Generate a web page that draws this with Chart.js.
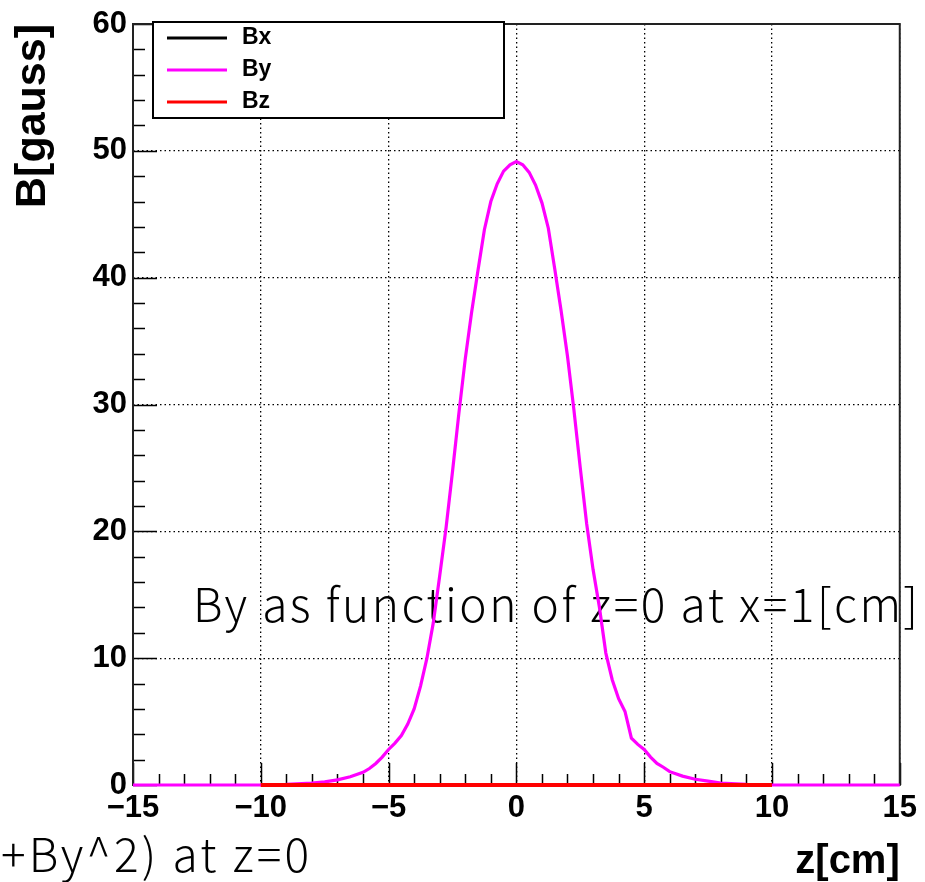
<!DOCTYPE html>
<html>
<head>
<meta charset="utf-8">
<script src="https://cdn.jsdelivr.net/npm/chart.js@4"></script>
<style>
  body { margin: 0; background: #fff; }
</style>
</head>
<body>
<canvas id="fieldChart" width="925" height="882"></canvas>
<script>
// z positions [cm] and By [gauss]
const zPos = [-15, -10, -9, -8, -7.5, -7, -6.5, -6, -5.75, -5.5, -5.25, -5, -4.75, -4.5, -4.25, -4,
  -3.75, -3.5, -3.25, -3, -2.75, -2.5, -2.25, -2, -1.75, -1.5, -1.25, -1, -0.75, -0.5, -0.25, 0,
  0.25, 0.5, 0.75, 1, 1.25, 1.5, 1.75, 2, 2.25, 2.5, 2.75, 3, 3.25, 3.5, 3.75, 4,
  4.25, 4.5, 4.75, 5, 5.25, 5.5, 5.75, 6, 6.5, 7, 7.5, 8, 9, 10, 15];
const byVals = [0, 0, 0.05, 0.15, 0.25, 0.4, 0.65, 1.0, 1.3, 1.7, 2.2, 2.8, 3.3, 3.9, 4.8, 6.0,
  7.8, 10.0, 12.8, 16.5, 20.3, 24.7, 29.3, 33.6, 37.3, 40.6, 43.8, 46.0, 47.4, 48.4, 48.9, 49.15,
  48.9, 48.3, 47.3, 45.9, 43.9, 40.7, 37.4, 33.8, 29.6, 25.0, 20.6, 17.0, 14.0, 10.4, 8.3, 6.8,
  5.8, 3.7, 3.2, 2.8, 2.2, 1.7, 1.4, 1.05, 0.7, 0.45, 0.3, 0.15, 0.05, 0, 0];

// Bx and Bz stay at zero over the measured range
const fieldZ = [-10, -5, 0, 5, 10];
const bxVals = [0, 0, 0, 0, 0];
const bzVals = [0, 0, 0, 0, 0];

const seriesNames = ['Bx', 'By', 'Bz'];
const seriesColors = ['#000000', '#ff00ff', '#ff0000'];

const noteMain = 'By as function of z=0 at x=1[cm]';
const noteCut = '+By^2) at z=0';

function toPoints(xs, ys) {
  return xs.map((x, i) => ({ x: x, y: ys[i] }));
}

// spread the letters so the text covers the given width
function spreadText(ctx, text, x, y, width) {
  ctx.letterSpacing = '0px';
  const w = ctx.measureText(text).width;
  const gap = Math.max(0, (width - w) / (text.length - 1));
  ctx.letterSpacing = gap + 'px';
  ctx.fillText(text, x, y);
  ctx.letterSpacing = '0px';
}

// ROOT style frame, inward ticks, legend box and the stray titles
const rootStyle = {
  id: 'rootStyle',
  beforeDatasetsDraw(chart) {
    const ctx = chart.ctx;
    const a = chart.chartArea;
    const xs = chart.scales.x;
    const ys = chart.scales.y;
    ctx.save();
    ctx.fillStyle = '#000';
    ctx.font = '300 46px "Noto Sans CJK JP"';
    ctx.textBaseline = 'alphabetic';
    ctx.textAlign = 'left';
    spreadText(ctx, noteMain, 193, 622, 725);
    spreadText(ctx, noteCut, 1, 872, 308);

    ctx.strokeStyle = '#000';
    ctx.lineWidth = 1.5;
    ctx.beginPath();
    for (let v = 0; v <= 60; v += 2) {
      const py = Math.round(ys.getPixelForValue(v)) + 0.5;
      const len = v % 10 === 0 ? 24 : 12;
      ctx.moveTo(a.left, py);
      ctx.lineTo(a.left + len, py);
    }
    for (let v = -15; v <= 15; v += 1) {
      const px = Math.round(xs.getPixelForValue(v)) + 0.5;
      const len = v % 5 === 0 ? 22 : 11;
      ctx.moveTo(px, a.bottom);
      ctx.lineTo(px, a.bottom - len);
    }
    ctx.stroke();
    ctx.lineWidth = 2;
    ctx.strokeStyle = '#222';
    ctx.strokeRect(a.left, a.top, a.right - a.left, a.bottom - a.top);
    ctx.restore();
  },
  afterDraw(chart) {
    const ctx = chart.ctx;
    const a = chart.chartArea;
    const bx = a.left + 20, by = a.top - 2, bw = 351, bh = 96;
    ctx.save();
    ctx.fillStyle = '#fff';
    ctx.fillRect(bx, by, bw, bh);
    ctx.strokeStyle = '#000';
    ctx.lineWidth = 2;
    ctx.strokeRect(bx, by, bw, bh);
    ctx.font = 'bold 23px "Liberation Sans"';
    ctx.textBaseline = 'middle';
    ctx.textAlign = 'left';
    chart.data.datasets.forEach((ds, i) => {
      const rowY = by + 16 + i * 32;
      ctx.strokeStyle = ds.borderColor;
      ctx.lineWidth = 3;
      ctx.beginPath();
      ctx.moveTo(bx + 14, rowY);
      ctx.lineTo(bx + 74, rowY);
      ctx.stroke();
      ctx.fillStyle = '#000';
      ctx.fillText(ds.label, bx + 89, rowY);
    });
    ctx.restore();
  }
};

const ctx = document.getElementById('fieldChart').getContext('2d');
new Chart(ctx, {
  type: 'line',
  data: {
    datasets: [
      { label: seriesNames[0], data: toPoints(fieldZ, bxVals), borderColor: seriesColors[0], borderWidth: 3, order: 2, clip: 6 },
      { label: seriesNames[1], data: toPoints(zPos, byVals), borderColor: seriesColors[1], borderWidth: 3.2, order: 1, clip: 6 },
      { label: seriesNames[2], data: toPoints(fieldZ, bzVals), borderColor: seriesColors[2], borderWidth: 4, order: 0, clip: 6 }
    ]
  },
  options: {
    responsive: false,
    animation: false,
    layout: { padding: { top: 24, right: 23, left: 0, bottom: 0 } },
    elements: { point: { radius: 0 }, line: { tension: 0 } },
    plugins: { legend: { display: false }, tooltip: { enabled: false } },
    scales: {
      x: {
        type: 'linear',
        min: -15,
        max: 15,
        afterFit(s) { s.height = 97; },
        ticks: {
          stepSize: 5,
          maxRotation: 0,
          padding: 8,
          color: '#000',
          font: { family: 'Liberation Sans', weight: 'bold', size: 31, lineHeight: 1 },
          callback: v => (v < 0 ? '\u2212' + Math.abs(v) : String(v))
        },
        grid: { color: '#000', lineWidth: 1.3, drawTicks: false },
        border: { display: false, dash: [1.5, 3] },
        title: {
          display: true, text: 'z[cm]', align: 'end', color: '#000',
          font: { family: 'Liberation Sans', weight: 'bold', size: 40, lineHeight: 1 },
          padding: { top: 0, bottom: 0 }
        }
      },
      y: {
        min: 0,
        max: 60,
        afterFit(s) { s.width = 133; },
        ticks: {
          stepSize: 10,
          padding: 6,
          color: '#000',
          font: { family: 'Liberation Sans', weight: 'bold', size: 31, lineHeight: 1 }
        },
        grid: { color: '#000', lineWidth: 1.3, drawTicks: false },
        border: { display: false, dash: [1.5, 3] },
        title: {
          display: true, text: 'B[gauss]', align: 'end', color: '#000',
          font: { family: 'Liberation Sans', weight: 'bold', size: 43, lineHeight: 1 },
          padding: { top: 12, bottom: 0 }
        }
      }
    }
  },
  plugins: [rootStyle]
});
</script>
</body>
</html>
